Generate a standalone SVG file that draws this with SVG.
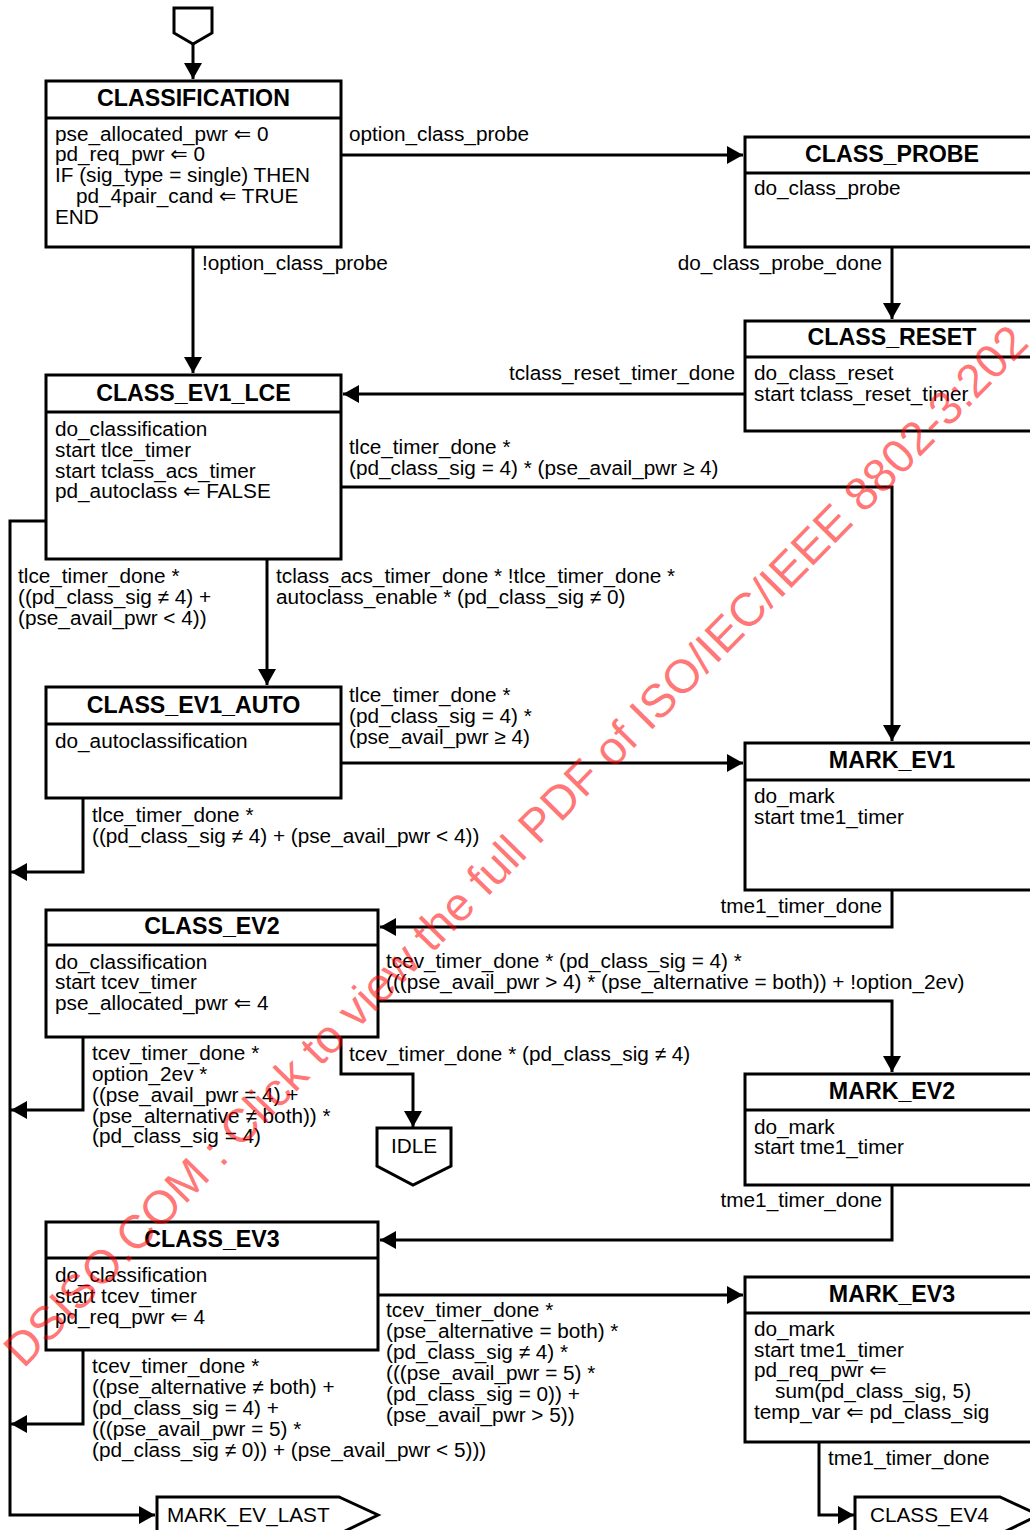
<svg xmlns="http://www.w3.org/2000/svg" width="1030" height="1530" viewBox="0 0 1030 1530">
<style>
.box{fill:#fff;stroke:#000;stroke-width:3}
.sep{stroke:#000;stroke-width:3}
.ln{fill:none;stroke:#000;stroke-width:3}
text{font-family:"Liberation Sans",Arial,"DejaVu Sans",sans-serif;font-size:20.75px;fill:#000}
.h{font-weight:bold;font-size:23.2px;text-anchor:middle}
.r{text-anchor:end}
.m{text-anchor:middle}
.wm{font-size:47px;fill:#ff0000;fill-opacity:0.55}
</style>
<defs>
<marker id="ah" markerUnits="userSpaceOnUse" markerWidth="16" markerHeight="18" refX="16" refY="9" orient="auto">
<path d="M0,0 L16,9 L0,18 Z" fill="#000"/>
</marker>
</defs>

<g id="connectors">
<path class="ln" d="M193,44 V79" marker-end="url(#ah)"/>
<path class="ln" d="M341,155 H743" marker-end="url(#ah)"/>
<path class="ln" d="M193,247 V373" marker-end="url(#ah)"/>
<path class="ln" d="M892,247 V319" marker-end="url(#ah)"/>
<path class="ln" d="M745,394 H343" marker-end="url(#ah)"/>
<path class="ln" d="M341,487 H892 V741" marker-end="url(#ah)"/>
<path class="ln" d="M46,521 H10 V1515 H155" marker-end="url(#ah)"/>
<path class="ln" d="M267,559 V685" marker-end="url(#ah)"/>
<path class="ln" d="M341,763 H743" marker-end="url(#ah)"/>
<path class="ln" d="M83,798 V872 H11" marker-end="url(#ah)"/>
<path class="ln" d="M892,890 V927 H380" marker-end="url(#ah)"/>
<path class="ln" d="M378,1001 H892 V1072" marker-end="url(#ah)"/>
<path class="ln" d="M83,1037 V1110 H11" marker-end="url(#ah)"/>
<path class="ln" d="M341,1037 V1074 H413 V1127" marker-end="url(#ah)"/>
<path class="ln" d="M892,1185 V1240 H380" marker-end="url(#ah)"/>
<path class="ln" d="M378,1295 H743" marker-end="url(#ah)"/>
<path class="ln" d="M83,1350 V1424 H11" marker-end="url(#ah)"/>
<path class="ln" d="M819,1442 V1515 H854" marker-end="url(#ah)"/>
<text x="349" y="141">option_class_probe</text>
<text x="202" y="270">!option_class_probe</text>
<text class="r" x="882" y="270">do_class_probe_done</text>
<text class="r" x="735" y="380">tclass_reset_timer_done</text>
<text x="349" y="454">tlce_timer_done *</text>
<text x="349" y="475">(pd_class_sig = 4) * (pse_avail_pwr ≥ 4)</text>
<text x="18" y="583">tlce_timer_done *</text>
<text x="18" y="604">((pd_class_sig ≠ 4) +</text>
<text x="18" y="624.5">(pse_avail_pwr &lt; 4))</text>
<text x="276" y="583">tclass_acs_timer_done * !tlce_timer_done *</text>
<text x="276" y="604">autoclass_enable * (pd_class_sig ≠ 0)</text>
<text x="349" y="702">tlce_timer_done *</text>
<text x="349" y="723">(pd_class_sig = 4) *</text>
<text x="349" y="743.5">(pse_avail_pwr ≥ 4)</text>
<text x="92" y="822">tlce_timer_done *</text>
<text x="92" y="843">((pd_class_sig ≠ 4) + (pse_avail_pwr &lt; 4))</text>
<text class="r" x="882" y="913">tme1_timer_done</text>
<text x="386" y="968">tcev_timer_done * (pd_class_sig = 4) *</text>
<text x="386" y="989">(((pse_avail_pwr &gt; 4) * (pse_alternative = both)) + !option_2ev)</text>
<text x="92" y="1060">tcev_timer_done *</text>
<text x="92" y="1081">option_2ev *</text>
<text x="92" y="1102">((pse_avail_pwr = 4) +</text>
<text x="92" y="1122.5">(pse_alternative ≠ both)) *</text>
<text x="92" y="1143">(pd_class_sig = 4)</text>
<text x="349" y="1061">tcev_timer_done * (pd_class_sig ≠ 4)</text>
<text class="r" x="882" y="1207">tme1_timer_done</text>
<text x="386" y="1317">tcev_timer_done *</text>
<text x="386" y="1338">(pse_alternative = both) *</text>
<text x="386" y="1359">(pd_class_sig ≠ 4) *</text>
<text x="386" y="1380">(((pse_avail_pwr = 5) *</text>
<text x="386" y="1401">(pd_class_sig = 0)) +</text>
<text x="386" y="1421.5">(pse_avail_pwr &gt; 5))</text>
<text x="92" y="1373">tcev_timer_done *</text>
<text x="92" y="1394">((pse_alternative ≠ both) +</text>
<text x="92" y="1414.5">(pd_class_sig = 4) +</text>
<text x="92" y="1435.5">(((pse_avail_pwr = 5) *</text>
<text x="92" y="1456.5">(pd_class_sig ≠ 0)) + (pse_avail_pwr &lt; 5)))</text>
<text x="828" y="1465">tme1_timer_done</text>
</g>

<g id="entry">
<path class="box" d="M174,8 H212 V33 L193,44 L174,33 Z"/>
</g>

<g id="classification">
<rect class="box" x="46" y="81" width="295" height="166"/>
<line class="sep" x1="46" y1="118" x2="341" y2="118"/>
<text class="h" x="193.5" y="106">CLASSIFICATION</text>
<text x="55" y="140.5">pse_allocated_pwr ⇐ 0</text>
<text x="55" y="161.3">pd_req_pwr ⇐ 0</text>
<text x="55" y="182">IF (sig_type = single) THEN</text>
<text x="76" y="202.8">pd_4pair_cand ⇐ TRUE</text>
<text x="55" y="223.5">END</text>
</g>

<g id="class_probe">
<rect class="box" x="745" y="137" width="295" height="110"/>
<line class="sep" x1="745" y1="173" x2="1040" y2="173"/>
<text class="h" x="892" y="162">CLASS_PROBE</text>
<text x="754" y="195">do_class_probe</text>
</g>

<g id="class_reset">
<rect class="box" x="745" y="321" width="295" height="110"/>
<line class="sep" x1="745" y1="357" x2="1040" y2="357"/>
<text class="h" x="892" y="345">CLASS_RESET</text>
<text x="754" y="380">do_class_reset</text>
<text x="754" y="400.5">start tclass_reset_timer</text>
</g>

<g id="class_ev1_lce">
<rect class="box" x="46" y="375" width="295" height="184"/>
<line class="sep" x1="46" y1="412" x2="341" y2="412"/>
<text class="h" x="193.5" y="401">CLASS_EV1_LCE</text>
<text x="55" y="436">do_classification</text>
<text x="55" y="456.8">start tlce_timer</text>
<text x="55" y="477.5">start tclass_acs_timer</text>
<text x="55" y="498.3">pd_autoclass ⇐ FALSE</text>
</g>

<g id="class_ev1_auto">
<rect class="box" x="46" y="687" width="295" height="111"/>
<line class="sep" x1="46" y1="724" x2="341" y2="724"/>
<text class="h" x="193.5" y="713">CLASS_EV1_AUTO</text>
<text x="55" y="748">do_autoclassification</text>
</g>

<g id="mark_ev1">
<rect class="box" x="745" y="743" width="295" height="147"/>
<line class="sep" x1="745" y1="780" x2="1040" y2="780"/>
<text class="h" x="892" y="768">MARK_EV1</text>
<text x="754" y="803">do_mark</text>
<text x="754" y="823.5">start tme1_timer</text>
</g>

<g id="class_ev2">
<rect class="box" x="46" y="910" width="332" height="127"/>
<line class="sep" x1="46" y1="945" x2="378" y2="945"/>
<text class="h" x="212" y="934">CLASS_EV2</text>
<text x="55" y="968.5">do_classification</text>
<text x="55" y="989.3">start tcev_timer</text>
<text x="55" y="1010">pse_allocated_pwr ⇐ 4</text>
</g>

<g id="idle">
<path class="box" d="M377,1128 H451 V1166 L413,1185 L377,1166 Z"/>
<text class="m" x="414" y="1153">IDLE</text>
</g>

<g id="mark_ev2">
<rect class="box" x="745" y="1074" width="295" height="111"/>
<line class="sep" x1="745" y1="1110" x2="1040" y2="1110"/>
<text class="h" x="892" y="1099">MARK_EV2</text>
<text x="754" y="1133.5">do_mark</text>
<text x="754" y="1154.3">start tme1_timer</text>
</g>

<g id="class_ev3">
<rect class="box" x="46" y="1222" width="332" height="128"/>
<line class="sep" x1="46" y1="1258" x2="378" y2="1258"/>
<text class="h" x="212" y="1247">CLASS_EV3</text>
<text x="55" y="1282">do_classification</text>
<text x="55" y="1302.8">start tcev_timer</text>
<text x="55" y="1323.5">pd_req_pwr ⇐ 4</text>
</g>

<g id="mark_ev3">
<rect class="box" x="745" y="1277" width="295" height="165"/>
<line class="sep" x1="745" y1="1313" x2="1040" y2="1313"/>
<text class="h" x="892" y="1302">MARK_EV3</text>
<text x="754" y="1336">do_mark</text>
<text x="754" y="1356.7">start tme1_timer</text>
<text x="754" y="1377.4">pd_req_pwr ⇐</text>
<text x="775" y="1398.1">sum(pd_class_sig, 5)</text>
<text x="754" y="1418.8">temp_var ⇐ pd_class_sig</text>
</g>

<g id="mark_ev_last">
<path class="box" d="M157,1497 H339 L378,1515 L339,1534 H157 Z"/>
<text x="167" y="1522">MARK_EV_LAST</text>
</g>

<g id="class_ev4">
<path class="box" d="M855,1497 H1000 L1039,1515 L1000,1534 H855 Z"/>
<text x="870" y="1522">CLASS_EV4</text>
</g>

<g id="watermark">
<text class="wm m" transform="translate(527,857) rotate(-45.5)">DSISO.COM : Click to view the full PDF of ISO/IEC/IEEE 8802-3:202</text>
</g>
</svg>
